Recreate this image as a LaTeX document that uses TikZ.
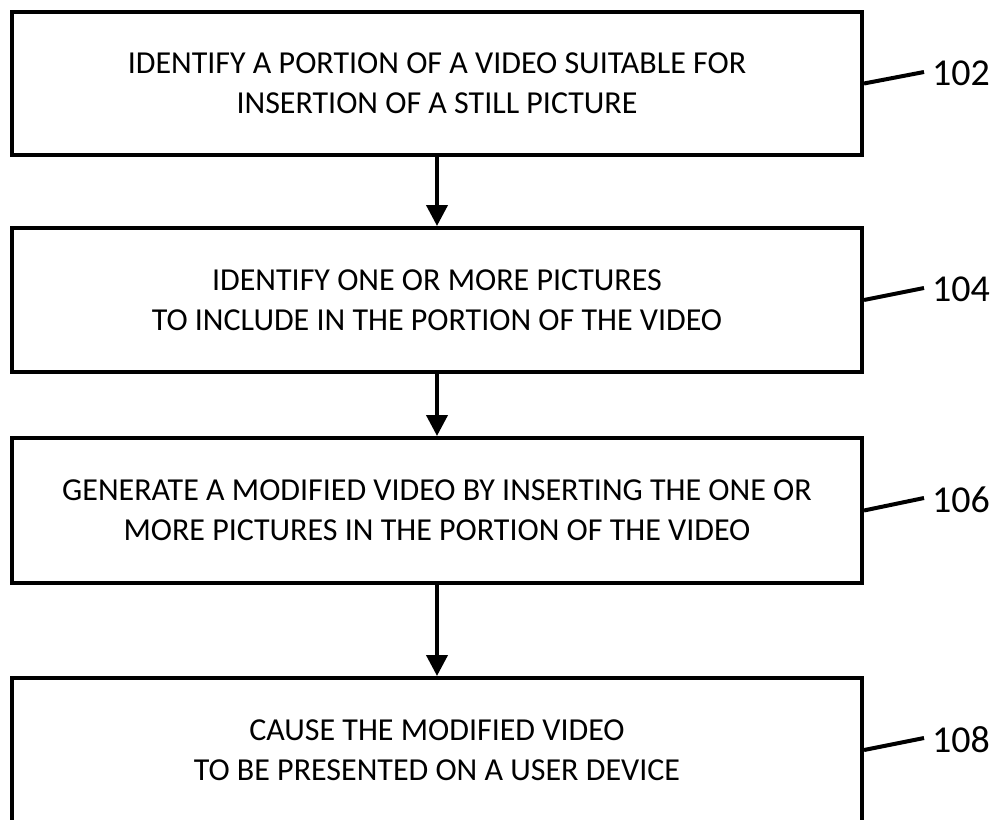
\documentclass[tikz,border=0pt]{standalone}
\usepackage{fontspec}
\setmainfont{Carlito}
\usetikzlibrary{arrows.meta}
\begin{document}
\begin{tikzpicture}[x=1pt,y=-1pt,
  stepbox/.style={draw=black, line width=4pt, minimum width=850pt, minimum height=#1, inner sep=0pt, align=center, font=\fontsize{32}{40}\selectfont},
  flow/.style={line width=4pt, -{Triangle[width=21pt,length=21pt]}},
  leader/.style={line width=4pt},
  reflabel/.style={anchor=west, inner sep=0pt, font=\fontsize{38}{44}\selectfont}
]
\useasboundingbox (0,0) rectangle (992,819);
\clip (0,0) rectangle (992,819);
\node[stepbox=143pt] (b1) at (437,83.5) {IDENTIFY A PORTION OF A VIDEO SUITABLE FOR\\INSERTION OF A STILL PICTURE};
\node[stepbox=144pt] (b2) at (437,300) {IDENTIFY ONE OR MORE PICTURES\\TO INCLUDE IN THE PORTION OF THE VIDEO};
\node[stepbox=145pt] (b3) at (437,510.5) {GENERATE A MODIFIED VIDEO BY INSERTING THE ONE OR\\MORE PICTURES IN THE PORTION OF THE VIDEO};
\node[stepbox=144pt] (b4) at (437,750) {CAUSE THE MODIFIED VIDEO\\TO BE PRESENTED ON A USER DEVICE};
\draw[flow] (b1.south) -- (b2.north);
\draw[flow] (b2.south) -- (b3.north);
\draw[flow] (b3.south) -- (b4.north);
\coordinate (e1) at (924,72);
\coordinate (e2) at (924,288);
\coordinate (e3) at (924,498);
\coordinate (e4) at (924,738);
\draw[leader] (b1.east) -- (e1);
\draw[leader] (b2.east) -- (e2);
\draw[leader] (b3.east) -- (e3);
\draw[leader] (b4.east) -- (e4);
\node[reflabel] (l1) at (932,73) {102};
\node[reflabel] (l2) at (932,289) {104};
\node[reflabel] (l3) at (932,500) {106};
\node[reflabel] (l4) at (932,740) {108};
\end{tikzpicture}
\end{document}
